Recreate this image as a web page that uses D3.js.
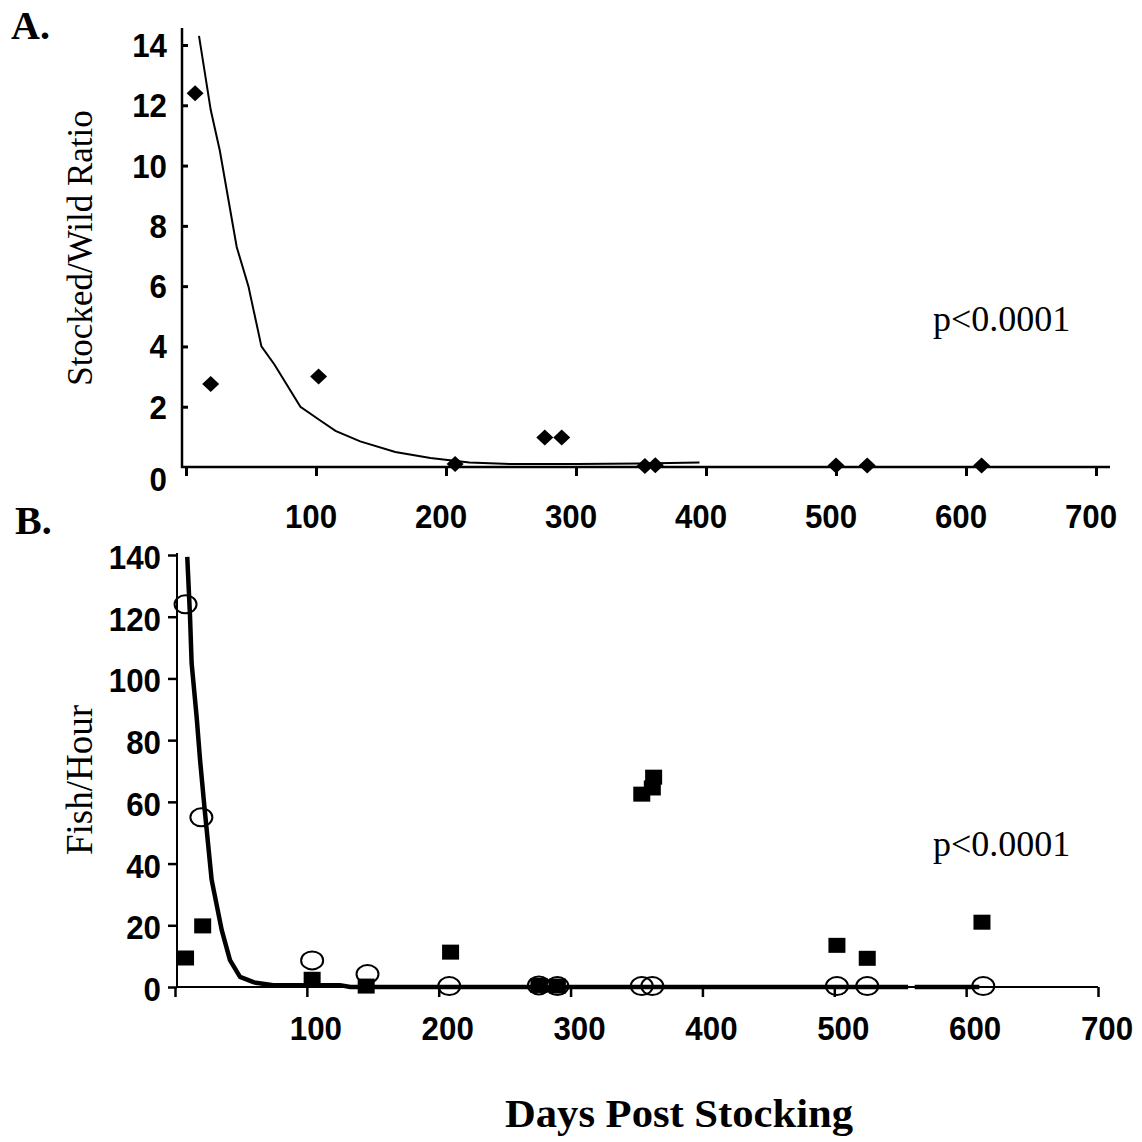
<!DOCTYPE html>
<html><head><meta charset="utf-8">
<script src="https://cdn.jsdelivr.net/npm/d3@7"></script>
<style>body{margin:0;background:#fff}svg{display:block}</style>
</head><body>
<svg id="c" width="1142" height="1142"></svg>
<script>
// ---- data ----
const dayTicks = [0,100,200,300,400,500,600,700];
const ratioTicks = [0,2,4,6,8,10,12,14];
const fishTicks = [0,20,40,60,80,100,120,140];

const ratioDays   = [7,19,102,207,276,289,353,361,500,524,612];
const ratioValues = [12.4,2.75,3.0,0.1,0.98,0.98,0.03,0.06,0.05,0.05,0.05];
const ratioFitDays   = [10,19,26,39,48,58,68,88,103,115,134,161,188,218,250,300,350,395];
const ratioFitValues = [14.3,11.85,10.5,7.3,6,4,3.4,2,1.55,1.2,0.85,0.5,0.3,0.15,0.1,0.1,0.12,0.15];

const squareDays   = [8,21,104,145,209,276,290,354,362,363,502,525,612];
const squareValues = [9.4,19.8,2.5,0.3,11.3,0.5,0.3,62.5,64.5,68,13.5,9.3,21];
const circleDays   = [8,20,104,146,208,276,290,354,362,502,525,613];
const circleValues = [124,55,8.6,4.2,0.3,0.5,0.3,0.3,0.3,0.3,0.3,0.3];
const fishFitDays   = [9.3,11.4,12.6,16.4,19,22.3,27.8,35.4,41.7,49.3,60,74.5,125,133,556,558,561,610];
const fishFitValues = [139.4,120,105,87.6,73.6,58.4,34.7,18.5,8.7,3.3,1.5,0.6,0.6,0,0,null,0,0];

// ---- drawing ----
const svg = d3.select('#c');
const SANS = '"Liberation Sans", Arial, sans-serif';
const SERIF = '"Liberation Serif", "Times New Roman", serif';

// Panel A scales
const xA = d3.scaleLinear().domain([0,700]).range([186,1096]);
const yA = d3.scaleLinear().domain([0,14]).range([467,45]);
// Panel B scales
const xB = d3.scaleLinear().domain([0,700]).range([175,1098]);
const yB = d3.scaleLinear().domain([0,140]).range([987,555]);

function styleAxis(g){
  g.select('.domain').remove();
  g.selectAll('.tick line').attr('stroke','#000').attr('stroke-width',3);
  g.selectAll('.tick text').remove();
}
function tickLabel(sel){
  sel.style('font-family',SANS).style('font-weight','bold').style('font-size','33px')
     .attr('textLength',d=>String(d).length*17.4).attr('lengthAdjust','spacingAndGlyphs');
}

// ---------- Panel A ----------
const gA = svg.append('g');
gA.append('line').attr('x1',182).attr('x2',182).attr('y1',28).attr('y2',468).attr('stroke','#000').attr('stroke-width',2.5);
gA.append('line').attr('x1',181).attr('x2',1110).attr('y1',467).attr('y2',467).attr('stroke','#000').attr('stroke-width',2.5);
gA.append('g').attr('transform','translate(0,467)')
  .call(d3.axisBottom(xA).tickValues(dayTicks).tickSize(9).tickSizeOuter(0)).call(styleAxis);
gA.append('g').attr('transform','translate(182,0)')
  .call(d3.axisRight(yA).tickValues(ratioTicks.filter(d=>d>0)).tickSize(6).tickSizeOuter(0)).call(styleAxis);
gA.selectAll('text.ya').data(ratioTicks).enter().append('text')
  .attr('x',167).attr('y',d=>yA(d)+ (d===0?24:12)).attr('text-anchor','end').call(tickLabel).text(d=>d);
gA.selectAll('text.xa').data(dayTicks.filter(d=>d>0)).enter().append('text')
  .attr('x',d=>xA(d)-5).attr('y',528).attr('text-anchor','middle').call(tickLabel).text(d=>d);
const lineA = d3.line().x((d,i)=>xA(ratioFitDays[i])).y((d,i)=>yA(ratioFitValues[i]));
gA.append('path').datum(ratioFitDays).attr('d',lineA).attr('fill','none').attr('stroke','#000').attr('stroke-width',2);
gA.selectAll('path.dia').data(ratioDays).enter().append('path')
  .attr('d','M0,-8L8.5,0L0,8L-8.5,0Z')
  .attr('transform',(d,i)=>`translate(${xA(d)},${yA(ratioValues[i])})`).attr('fill','#000');
gA.append('text').attr('x',11).attr('y',39).style('font-family',SERIF).style('font-weight','bold').style('font-size','40px').text('A.');
gA.append('text').attr('transform','translate(92,248) rotate(-90)').attr('text-anchor','middle')
  .style('font-family',SERIF).style('font-size','35px').text('Stocked/Wild Ratio');
gA.append('text').attr('x',933).attr('y',331).style('font-family',SERIF).style('font-size','36px').text('p<0.0001');

// ---------- Panel B ----------
const gB = svg.append('g');
gB.append('line').attr('x1',177).attr('x2',177).attr('y1',553).attr('y2',988).attr('stroke','#000').attr('stroke-width',2);
gB.append('line').attr('x1',176).attr('x2',1098).attr('y1',987).attr('y2',987).attr('stroke','#000').attr('stroke-width',2);
gB.append('g').attr('transform','translate(0,987)')
  .call(d3.axisBottom(xB).tickValues(dayTicks).tickSize(10).tickSizeOuter(0)).call(styleAxis);
gB.append('g').attr('transform','translate(177,0)')
  .call(d3.axisLeft(yB).tickValues(fishTicks).tickSize(9).tickSizeOuter(0)).call(styleAxis);
gB.selectAll('.tick line').attr('stroke-width',2.5);
gB.selectAll('text.yb').data(fishTicks).enter().append('text')
  .attr('x',161).attr('y',d=>yB(d)+14).attr('text-anchor','end').call(tickLabel).text(d=>d);
gB.selectAll('text.xb').data(dayTicks.filter(d=>d>0)).enter().append('text')
  .attr('x',d=>xB(d)+9).attr('y',1040).attr('text-anchor','middle').call(tickLabel).text(d=>d);
const lineB = d3.line().defined((d,i)=>fishFitValues[i]!==null)
  .x((d,i)=>xB(fishFitDays[i])).y((d,i)=>yB(fishFitValues[i]));
gB.append('path').datum(fishFitDays).attr('d',lineB).attr('fill','none').attr('stroke','#000').attr('stroke-width',4.5).attr('stroke-linejoin','round');
gB.selectAll('rect.sq').data(squareDays).enter().append('rect')
  .attr('x',d=>xB(d)-8.5).attr('y',(d,i)=>yB(squareValues[i])-7.5).attr('width',17).attr('height',15).attr('fill','#000');
gB.selectAll('ellipse.ci').data(circleDays).enter().append('ellipse')
  .attr('cx',d=>xB(d)).attr('cy',(d,i)=>yB(circleValues[i])).attr('rx',11).attr('ry',9)
  .attr('fill','none').attr('stroke','#000').attr('stroke-width',2);
gB.append('text').attr('x',15).attr('y',534).style('font-family',SERIF).style('font-weight','bold').style('font-size','40px').text('B.');
gB.append('text').attr('transform','translate(92,780) rotate(-90)').attr('text-anchor','middle')
  .style('font-family',SERIF).style('font-size','37px').text('Fish/Hour');
gB.append('text').attr('x',933).attr('y',856).style('font-family',SERIF).style('font-size','36px').text('p<0.0001');

svg.append('text').attr('x',679).attr('y',1127).attr('text-anchor','middle')
  .attr('textLength',348).attr('lengthAdjust','spacingAndGlyphs')
  .style('font-family',SERIF).style('font-weight','bold').style('font-size','40px').text('Days Post Stocking');
</script>
</body></html>
